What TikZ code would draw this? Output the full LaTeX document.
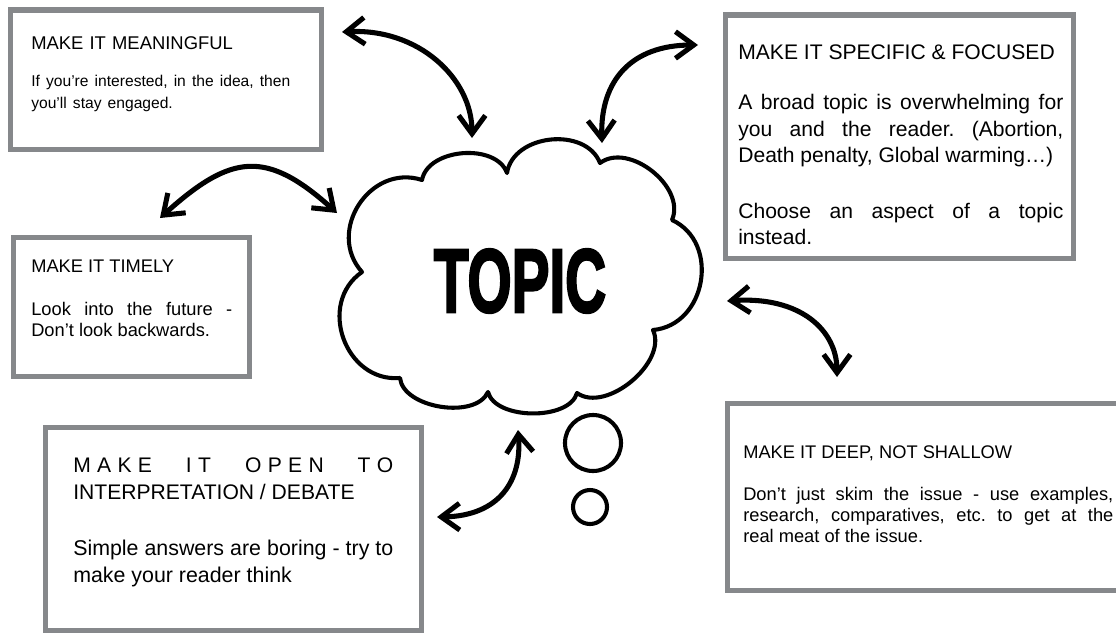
\documentclass[tikz,border=0pt]{standalone}
\usepackage{fontspec}
\setmainfont{Liberation Sans}
\usepackage{graphicx}
\usetikzlibrary{arrows.meta}
\definecolor{framegray}{HTML}{86888B}
\frenchspacing

\begin{document}
\begin{tikzpicture}[x=0.025cm, y=-0.025cm,
  tipbox/.style={draw=framegray, line width=3.6pt, inner sep=0pt, fill=white},
  txt/.style={anchor=base west, align=justify, inner sep=0pt},
  cloudline/.style={line width=2.9pt, line join=round},
  twoway/.style={line width=3.6pt, >={Straight Barb[length=13pt,width=19pt]}, <->}]
\useasboundingbox (0,0) rectangle (1116,633);
\fill[white] (0,0) rectangle (1116,633);
\node[tipbox, minimum width=7.7625cm, minimum height=3.4875cm] (mean) at (165.75,79.75) {};
\node[tipbox, minimum width=8.7cm, minimum height=6.0875cm] (spec) at (899.5,136.75) {};
\node[tipbox, minimum width=5.9cm, minimum height=3.475cm] (time) at (131.5,307) {};
\node[tipbox, minimum width=9.4cm, minimum height=5.075cm] (open) at (233.5,529) {};
\node[tipbox, minimum width=10.0625cm, minimum height=4.675cm] (deep) at (928.75,497) {};
\node[txt, text width=7.2cm, align=left, font=\fontsize{13.1pt}{15pt}\selectfont] (mean txt) at (31,49)
  {MAKE IT MEANINGFUL\par\vspace{13.9pt}
   \fontsize{11.1pt}{13.1pt}\selectfont If you’re interested, in the idea, then\\ you’ll stay engaged.};
\node[txt, text width=8.125cm, font=\fontsize{15pt}{18.85pt}\selectfont] (spec txt) at (738,59)
  {MAKE IT SPECIFIC \& FOCUSED\par\vspace{17.4pt}
   A broad topic is overwhelming for\linebreak you and the reader. (Abortion,\linebreak Death penalty, Global warming…)\par\vspace{20.3pt}
   Choose an aspect of a topic\linebreak instead.};
\node[txt, text width=5.025cm, font=\fontsize{13pt}{14.94pt}\selectfont] (time txt) at (31,272)
  {MAKE IT TIMELY\par\vspace{15.7pt}
   Look into the future -\linebreak Don’t look backwards.};
\node[txt, text width=8cm, font=\fontsize{15pt}{19.2pt}\selectfont] (open txt) at (73,472)
  {\hbox to\linewidth{\hbox{M\kern4.5pt A\kern4.5pt K\kern4.5pt E}\hfil\hbox{I\kern4.5pt T}\hfil
     \hbox{O\kern4.5pt P\kern4.5pt E\kern4.5pt N}\hfil\hbox{T\kern4.5pt O}}
   INTERPRETATION / DEBATE\par\vspace{21.3pt}
   \fontsize{15.2pt}{17.1pt}\selectfont Simple answers are boring - try to\linebreak make your reader think};
\node[txt, text width=9.25cm, font=\fontsize{13pt}{14.94pt}\selectfont] (deep txt) at (743,458)
  {MAKE IT DEEP, NOT SHALLOW\par\vspace{15pt}
   Don’t just skim the issue - use examples,\linebreak research, comparatives, etc. to get at the\linebreak real meat of the issue.};
\draw[cloudline, fill=white] (422,180) to[bend left=75, looseness=0.97] (507,173)
  to[bend left=75, looseness=1.08] (600,163)
  to[bend left=75, looseness=1.0] (672,220)
  to[bend left=75, looseness=1.23] (653,330)
  to[bend left=75, looseness=0.92] (577,393)
  to[bend left=75, looseness=0.83] (488,392)
  to[bend left=75, looseness=0.87] (400,378)
  to[bend left=75, looseness=1.25] (362,272)
  to[bend left=75, looseness=1.27] (422,180) -- cycle;
\foreach \cx/\cy/\rad in {593/443/0.7, 590/507/0.425}
  \draw[cloudline] (\cx,\cy) circle[radius=\rad cm];
\node[font=\bfseries\fontsize{64pt}{64pt}\selectfont\addfontfeatures{FakeBold=3}, inner sep=0pt] (topic) at (520,281) {\scalebox{0.63}[1]{TOPIC}};
\coordinate (mean end) at (342,32);
\coordinate (cloud n1) at (472,138);
\coordinate (spec end) at (698,45);
\coordinate (cloud n2) at (602,143);
\coordinate (time end) at (160,218);
\coordinate (cloud w) at (337,213);
\coordinate (deep end) at (837,377);
\coordinate (cloud e) at (727,301);
\coordinate (open end) at (437,517);
\coordinate (cloud s) at (518,430);
\draw[twoway] (mean end) .. controls +(76,-4) and +(0,-60) .. (cloud n1);
\draw[twoway] (cloud n2) .. controls +(-2,-63) and +(-66,0) .. (spec end);
\draw[twoway] (time end) .. controls +(71,-64) and +(-71,-64) .. (cloud w);
\draw[twoway] (cloud e) .. controls +(73,-5) and +(0,-47) .. (deep end);
\draw[twoway] (cloud s) .. controls +(4,50) and +(63,-1) .. (open end);
\end{tikzpicture}
\end{document}
